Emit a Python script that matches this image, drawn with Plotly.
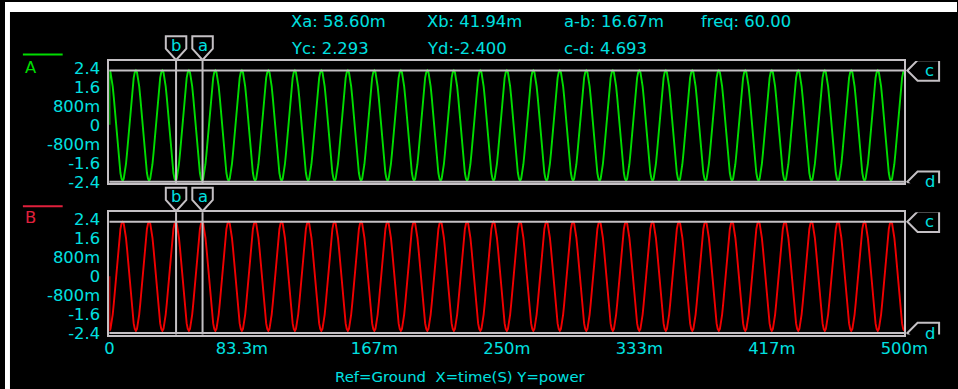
import plotly.graph_objects as go

# ---------------- data ----------------
freq_hz = 60.0
n_cycles = 30
cycle_phase_deg = [0, 15, 30, 45, 60, 75, 90, 105, 120, 135, 150, 165,
                   180, 195, 210, 225, 240, 255, 270, 285, 300, 315, 330, 345]
a_cycle = [2.29, 2.21, 1.98, 1.62, 1.15, 0.59, 0.0, -0.61, -1.18, -1.66, -2.03, -2.27,
           -2.36, -2.27, -2.03, -1.66, -1.18, -0.61, 0.0, 0.59, 1.15, 1.62, 1.98, 2.21]
b_cycle = [-2.30, -2.22, -1.99, -1.62, -1.15, -0.59, 0.0, 0.59, 1.15, 1.62, 1.99, 2.22,
           2.29, 2.22, 1.99, 1.62, 1.15, 0.59, 0.0, -0.59, -1.15, -1.62, -1.99, -2.22]
start_value = 0.0

x_tick_vals = [0, 83.33, 166.67, 250, 333.33, 416.67, 500]
x_tick_text = ["0", "83.3m", "167m", "250m", "333m", "417m", "500m"]
y_tick_vals = [2.4, 1.6, 0.8, 0, -0.8, -1.6, -2.4]
y_tick_text = ["2.4", "1.6", "800m", "0", "-800m", "-1.6", "-2.4"]

cursor_a_ms = 58.60
cursor_b_ms = 41.94
cursor_c = 2.293
cursor_d = -2.400

header_row1 = ["Xa: 58.60m", "Xb: 41.94m", "a-b: 16.67m", "freq: 60.00"]
header_row2 = ["Yc: 2.293", "Yd:-2.400", "c-d: 4.693"]
channel_names = ["A", "B"]
footer_text = "Ref=Ground  X=time(S) Y=power"

# ---------------- build series ----------------
t_ms = [0.0]
a_vals = [start_value]
b_vals = [start_value]
for k in range(n_cycles):
    for ph, va, vb in zip(cycle_phase_deg, a_cycle, b_cycle):
        t_ms.append((k + ph / 360.0) * 1000.0 / freq_hz)
        a_vals.append(va)
        b_vals.append(vb)
t_ms.append(n_cycles * 1000.0 / freq_hz)
a_vals.append(a_cycle[0])
b_vals.append(b_cycle[0])

# ---------------- style ----------------
S = 1.0245                      # capture scale compensation
W, H = round(958 * S), round(389 * S)
BG = "black"
BOX = "#c4c0c4"
CYAN = "#00e0e0"
GREEN = "#00dc00"
RED = "#f00000"
BRED = "#e0203c"
FONT = "DejaVu Sans"
FS = 16 * S


def px(x):
    return x * S / W


def py(y):
    return 1 - y * S / H


def pp(v):
    return round(v * S, 2)


X_DOM = [px(105), px(904.5)]
A_DOM = [py(181.5), py(59)]
B_DOM = [py(333), py(210.5)]
Y_RANGE = [-2.463, 2.694]

fig = go.Figure()
fig.add_trace(go.Scatter(x=t_ms, y=a_vals, mode="lines", xaxis="x", yaxis="y",
                         line=dict(color=GREEN, width=1.9), hoverinfo="skip"))
fig.add_trace(go.Scatter(x=t_ms, y=b_vals, mode="lines", xaxis="x2", yaxis="y2",
                         line=dict(color=RED, width=1.9), hoverinfo="skip"))

axis_common = dict(showgrid=False, zeroline=False, showline=True, mirror=True,
                   linecolor=BOX, linewidth=2, ticks="")
yaxis_common = dict(axis_common, range=Y_RANGE, tickvals=y_tick_vals, ticktext=y_tick_text,
                    tickfont=dict(family=FONT, size=FS, color=CYAN), ticklabelstandoff=4)

fig.update_layout(
    width=W, height=H,
    margin=dict(l=0, r=0, t=0, b=0),
    paper_bgcolor=BG, plot_bgcolor=BG,
    showlegend=False,
    xaxis=dict(axis_common, domain=X_DOM, range=[0, 500], anchor="y", showticklabels=False),
    yaxis=dict(yaxis_common, domain=A_DOM, anchor="x"),
    xaxis2=dict(axis_common, domain=X_DOM, range=[0, 500], anchor="y2",
                tickvals=x_tick_vals, ticktext=x_tick_text,
                tickfont=dict(family=FONT, size=FS, color=CYAN), ticklabelstandoff=-2),
    yaxis2=dict(yaxis_common, domain=B_DOM, anchor="x2"),
)

shapes = []
annotations = []

# white page edges (top band and left strip)
shapes.append(dict(type="rect", xref="paper", yref="paper", x0=0, x1=1, y0=py(10), y1=1,
                   fillcolor="white", line=dict(width=0), layer="above"))
shapes.append(dict(type="rect", xref="paper", yref="paper", x0=0, x1=px(5), y0=0, y1=1,
                   fillcolor="white", line=dict(width=0), layer="above"))

top_flag = "M {a} {t} L {b} {t} L {b} {m} L 0 {p} L {a} {m} Z".format(
    a=pp(-10), b=pp(10), t=pp(24), m=pp(12), p=pp(1))
c_flag = "M {p} 0 L {s} {h} L {r} {h} L {r} {nh} L {s} {nh} Z".format(
    p=pp(3), s=pp(13), r=pp(34), h=pp(10), nh=pp(-10))
d_flag = "M {q} {qy} L {p} 0 L {s} {h} L {r} {h} L {r} {nb}".format(
    q=pp(9), qy=pp(-6), p=pp(3), s=pp(13), r=pp(34), h=pp(10), nb=pp(-7))

for xa, ya, dom in (("x", "y", A_DOM), ("x2", "y2", B_DOM)):
    # horizontal cursors c / d
    for val in (cursor_c, cursor_d):
        shapes.append(dict(type="line", xref=f"{xa} domain", yref=ya, x0=0, x1=1, y0=val, y1=val,
                           line=dict(color=BOX, width=2)))
    # vertical cursors a / b
    for val in (cursor_a_ms, cursor_b_ms):
        shapes.append(dict(type="line", xref=xa, yref=f"{ya} domain", x0=val, x1=val, y0=0, y1=1,
                           line=dict(color=BOX, width=2)))
    # flags for a / b on top
    for val, letter in ((cursor_b_ms, "b"), (cursor_a_ms, "a")):
        shapes.append(dict(type="path", xref=xa, yref=f"{ya} domain",
                           xsizemode="pixel", ysizemode="pixel", xanchor=val, yanchor=1,
                           path=top_flag, line=dict(color=BOX, width=2)))
        annotations.append(dict(xref=xa, yref="paper", x=val, y=dom[1], yshift=pp(15),
                                xanchor="center", yanchor="middle",
                                text=letter, showarrow=False,
                                font=dict(family=FONT, size=FS, color=CYAN)))
    # flags for c / d on the right
    shapes.append(dict(type="path", xref=f"{xa} domain", yref=ya,
                       xsizemode="pixel", ysizemode="pixel", xanchor=1, yanchor=cursor_c,
                       path=c_flag, line=dict(color=BOX, width=2)))
    shapes.append(dict(type="path", xref=f"{xa} domain", yref=ya,
                       xsizemode="pixel", ysizemode="pixel", xanchor=1, yanchor=cursor_d,
                       path=d_flag, line=dict(color=BOX, width=2)))
    for val, letter in ((cursor_c, "c"), (cursor_d, "d")):
        annotations.append(dict(xref="paper", yref=ya, x=X_DOM[1], y=val, xshift=pp(25),
                                xanchor="center", yanchor="middle",
                                text=letter, showarrow=False,
                                font=dict(family=FONT, size=FS, color=CYAN)))

# channel legends
for name, color, ly, ty in ((channel_names[0], GREEN, 52.5, 65.5), (channel_names[1], BRED, 204.5, 216)):
    shapes.append(dict(type="line", xref="paper", yref="paper", x0=px(18), x1=px(58),
                       y0=py(ly), y1=py(ly), line=dict(color=color, width=2)))
    annotations.append(dict(xref="paper", yref="paper", x=px(18), y=py(ty), xanchor="left",
                            yanchor="middle", text=name, showarrow=False,
                            font=dict(family=FONT, size=FS, color=color)))

# header readouts
col_x = [286, 422, 560, 698]
for txt, cx in zip(header_row1, col_x):
    annotations.append(dict(xref="paper", yref="paper", x=px(cx), y=py(20), xanchor="left",
                            yanchor="middle", text=txt, showarrow=False,
                            font=dict(family=FONT, size=FS, color=CYAN)))
for txt, cx in zip(header_row2, col_x):
    annotations.append(dict(xref="paper", yref="paper", x=px(cx), y=py(47), xanchor="left",
                            yanchor="middle", text=txt, showarrow=False,
                            font=dict(family=FONT, size=FS, color=CYAN)))

# footer
annotations.append(dict(xref="paper", yref="paper", x=px(330), y=py(375), xanchor="left",
                        yanchor="middle", text=footer_text, showarrow=False,
                        font=dict(family=FONT, size=14.5 * S, color=CYAN)))

fig.update_layout(shapes=shapes, annotations=annotations)
fig.write_html("out.html", config={"responsive": False, "displayModeBar": False},
               post_script="document.body.style.margin='0';document.body.style.overflow='hidden';")
